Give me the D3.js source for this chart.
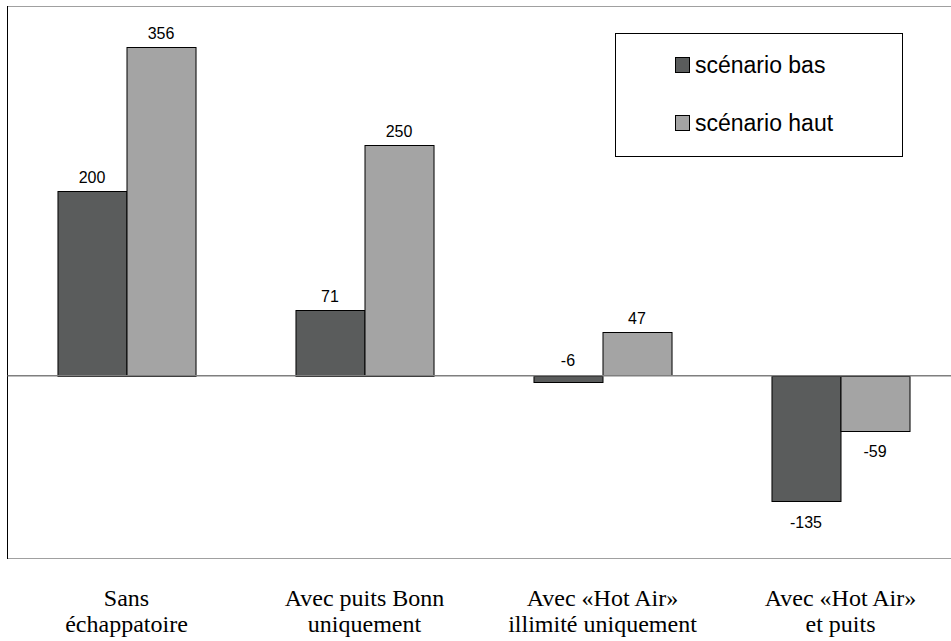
<!DOCTYPE html>
<html>
<head>
<meta charset="utf-8">
<script src="https://cdn.jsdelivr.net/npm/d3@7"></script>
</head>
<body style="margin:0">
<svg width="951" height="641"></svg>
<script>
// categories (two lines each) and the two series
const categories = [
  ["Sans", "échappatoire"],
  ["Avec puits Bonn", "uniquement"],
  ["Avec «Hot Air»", "illimité uniquement"],
  ["Avec «Hot Air»", "et puits"]
];
const seriesNames = ["scénario bas", "scénario haut"];
const basValues = [200, 71, -6, -135];
const hautValues = [356, 250, 47, -59];
const colors = ["#5a5c5c", "#a4a4a4"];

const svg = d3.select("svg")
const plotLeft = 7.5, plotTop = 6, plotBottom = 558, step = 238

const x = d3.scaleBand()
  .domain(d3.range(categories.length))
  .range([plotLeft, plotLeft + step * categories.length])
  .paddingInner(0.42)
  .paddingOuter(0.21)

const xs = d3.scaleBand()
  .domain(d3.range(seriesNames.length))
  .range([0, x.bandwidth()])

const y = d3.scaleLinear()
  .domain([-197, 400])
  .range([plotBottom, plotTop])

// frame
svg.append("line")
  .attr("x1", plotLeft).attr("x2", 951).attr("y1", plotTop + 0.5).attr("y2", plotTop + 0.5)
  .attr("stroke", "#a0a0a0")
svg.append("line")
  .attr("x1", plotLeft).attr("x2", 951).attr("y1", plotBottom + 0.5).attr("y2", plotBottom + 0.5)
  .attr("stroke", "#a0a0a0")
svg.append("line")
  .attr("x1", plotLeft).attr("x2", plotLeft).attr("y1", plotTop).attr("y2", plotBottom + 1)
  .attr("stroke", "#000")

const rows = categories.map((c, i) => ({i: i, vals: [basValues[i], hautValues[i]]}))

const g = svg.selectAll(".grp")
  .data(rows)
  .join("g")
  .attr("class", "grp")
  .attr("transform", d => `translate(${x(d.i)},0)`)

// zero line
svg.append("line")
  .attr("x1", plotLeft).attr("x2", 951).attr("y1", y(0)).attr("y2", y(0))
  .attr("stroke", "#7f7f7f").attr("stroke-width", 1.5)

g.selectAll("rect")
  .data(d => d.vals.map((v, s) => ({v: v, s: s})))
  .join("rect")
  .attr("x", d => xs(d.s) + 0.5)
  .attr("width", xs.bandwidth())
  .attr("y", d => Math.round(y(Math.max(0, d.v))) + 0.5)
  .attr("height", d => Math.round(Math.abs(y(d.v) - y(0))))
  .attr("fill", d => colors[d.s])
  .attr("stroke", "#000")
  .attr("stroke-width", 1)

// value labels, outside end (tiny negatives sit above the axis)
g.selectAll(".val")
  .data(d => d.vals.map((v, s) => ({v: v, s: s})))
  .join("text")
  .attr("class", "val")
  .attr("x", d => xs(d.s) + xs.bandwidth() / 2)
  .attr("y", d => {
    if (d.v >= 0) return y(d.v) - 8
    if (d.v > -20) return y(0) - 10
    return y(d.v) + 27
  })
  .attr("text-anchor", "middle")
  .style("font-family", "Arial")
  .style("font-size", "16px")
  .text(d => d.v)

// category labels, one text per line, centred by measuring
const catLines = categories.flatMap((c, i) => c.map((t, j) => ({t: t, i: i, j: j})))

svg.selectAll(".axislabel")
  .data(catLines)
  .join("text")
  .attr("class", "axislabel")
  .style("font-family", '"Times New Roman"')
  .style("font-size", "24px")
  .attr("y", d => 606 + d.j * 26)
  .text(d => d.t)
  .attr("x", function(d) {
    return x(d.i) + x.bandwidth() / 2 - this.getComputedTextLength() / 2
  })

// legend
const lg = svg.append("g")
lg.append("rect")
  .attr("x", 615.5).attr("y", 33.5).attr("width", 287).attr("height", 123)
  .attr("fill", "#fff").attr("stroke", "#000")

const item = lg.selectAll(".item")
  .data(seriesNames)
  .join("g")
  .attr("class", "item")
  .attr("transform", (d, i) => `translate(675,${57 + i * 58})`)

item.append("rect")
  .attr("x", 0.5).attr("y", 0.5).attr("width", 14).attr("height", 15)
  .attr("fill", (d, i) => colors[i])
  .attr("stroke", "#000")

item.append("text")
  .attr("x", 20).attr("y", 15.5)
  .style("font-family", "Arial")
  .style("font-size", "23px")
  .text(d => d)
</script>
</body>
</html>
